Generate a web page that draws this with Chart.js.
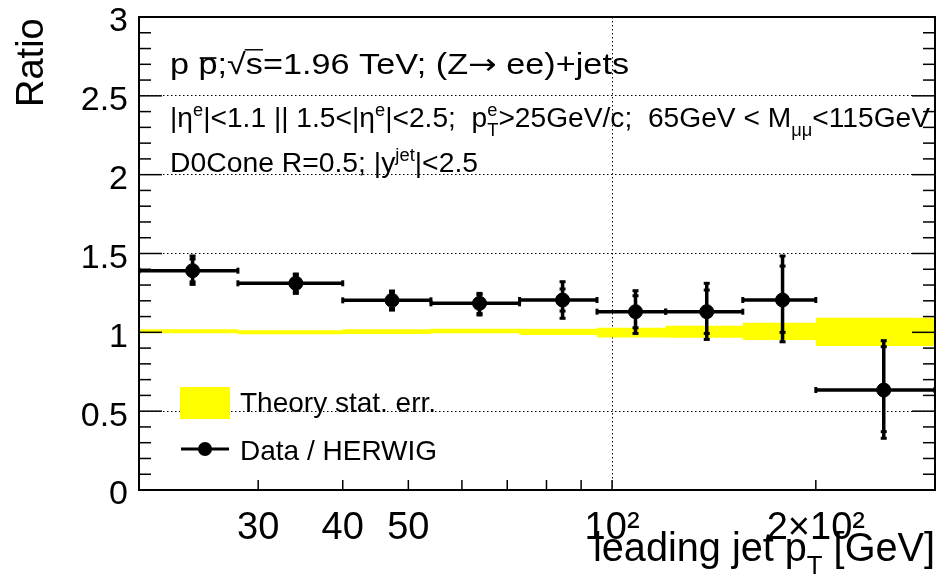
<!DOCTYPE html>
<html>
<head>
<meta charset="utf-8">
<script src="https://cdn.jsdelivr.net/npm/chart.js@4/dist/chart.umd.min.js"></script>
<style>
  html, body { margin: 0; padding: 0; background: #fff; overflow: hidden; }
  #clip { width: 937px; height: 576px; overflow: hidden; }
  #wrap { width: 937px; height: 576px; position: relative; }
  #chart { display: block; }
</style>
</head>
<body>
<div id="clip"><div id="wrap"><canvas id="chart"></canvas></div></div>
<script>
// bins of leading jet pT [GeV]
const binLo  = [20, 28, 40, 54, 73, 95, 120, 156, 200];
const binHi  = [28, 40, 54, 73, 95, 120, 156, 200, 300];
const binMid = [24.0, 34.1, 47.3, 63.7, 84.5, 108.3, 138.0, 178.6, 252];

// Data / HERWIG ratio with stat (inner) and total (outer) errors
const ratio  = [1.391, 1.311, 1.203, 1.184, 1.205, 1.131, 1.131, 1.205, 0.634];
const statLo = [1.320, 1.260, 1.150, 1.120, 1.135, 1.029, 0.993, 1.000, 0.370];
const statHi = [1.465, 1.360, 1.255, 1.240, 1.275, 1.232, 1.268, 1.420, 0.909];
const totLo  = [1.304, 1.247, 1.141, 1.110, 1.089, 0.993, 0.955, 0.940, 0.328];
const totHi  = [1.484, 1.370, 1.262, 1.247, 1.321, 1.264, 1.311, 1.484, 0.947];

// theory stat. err. band
const theoryLo = [0.994, 0.988, 0.990, 0.994, 0.983, 0.968, 0.966, 0.951, 0.913];
const theoryHi = [1.019, 1.013, 1.019, 1.022, 1.022, 1.029, 1.042, 1.061, 1.093];

// axis ticks
const xTickVals   = [20, 30, 40, 50, 60, 70, 80, 90, 100, 200, 300];
const xTickLabels = ['', '30', '40', '50', '', '', '', '', '10²', '2×10²', ''];

const FONT = '"Liberation Sans", Arial, Helvetica, sans-serif';
function fontOf(px, fam) { return px + 'px ' + (fam || FONT); }

// simple rich text: strings, {sup}, {sub}, {bar}, {rad}, {sym}
function runs(ctx, parts, size, draw) {
  let x = 0;
  const small = size * 0.65;
  parts.forEach(p => {
    if (typeof p === 'string') {
      ctx.font = fontOf(size);
      if (draw) ctx.fillText(p, x, 0);
      x += ctx.measureText(p).width;
    } else if (p.sym) {
      ctx.font = fontOf(size, '"DejaVu Sans", sans-serif');
      if (draw) ctx.fillText(p.sym, x, 0);
      x += ctx.measureText(p.sym).width;
    } else if (p.bar) {
      ctx.font = fontOf(size);
      const w = ctx.measureText(p.bar).width;
      if (draw) { ctx.fillText(p.bar, x, 0); ctx.fillRect(x + 1, -size * 0.58, w - 2, size * 0.06); }
      x += w;
    } else if (p.rad) {
      ctx.font = fontOf(size);
      const rw = ctx.measureText('√').width;
      const w = ctx.measureText(p.rad).width;
      if (draw) {
        ctx.fillText('√', x, 0);
        ctx.fillText(p.rad, x + rw, 0);
        ctx.fillRect(x + rw - 1, -size * 0.86, w + 1, size * 0.05);
      }
      x += rw + w;
    } else {
      ctx.font = fontOf(small);
      const ws = p.sup ? ctx.measureText(p.sup).width : 0;
      const wb = p.sub ? ctx.measureText(p.sub).width : 0;
      if (draw) {
        if (p.sup) ctx.fillText(p.sup, x, -size * 0.42);
        if (p.sub) ctx.fillText(p.sub, x, size * 0.32);
      }
      x += Math.max(ws, wb);
    }
  });
  return x;
}
function drawRich(ctx, parts, x, y, size, width) {
  ctx.save();
  ctx.fillStyle = '#000';
  ctx.textAlign = 'left';
  ctx.textBaseline = 'alphabetic';
  const w = runs(ctx, parts, size, false);
  const sx = width ? width / w : 1;
  ctx.translate(x, y);
  ctx.scale(sx, 1);
  runs(ctx, parts, size, true);
  ctx.restore();
}

// datasets built from the arrays
const hBars = binLo.flatMap((lo, i) => [{x: lo, y: ratio[i]}, {x: binHi[i], y: ratio[i]}, {x: binHi[i], y: null}]);
const vTot = binMid.flatMap((c, i) => [{x: c, y: totLo[i]}, {x: c, y: totHi[i]}, {x: c, y: null}]);
const statCaps = binMid.flatMap((c, i) => [{x: c, y: statLo[i]}, {x: c, y: statHi[i]}]);
const markers = binMid.map((c, i) => ({x: c, y: ratio[i]}));
const bandHi = binLo.flatMap((lo, i) => [{x: lo, y: theoryHi[i]}, {x: binHi[i], y: theoryHi[i]}]);
const bandLo = binLo.flatMap((lo, i) => [{x: lo, y: theoryLo[i]}, {x: binHi[i], y: theoryLo[i]}]);

const frame = {
  id: 'frame',
  afterDatasetsDraw(chart) {
    const {ctx, chartArea: a, scales: {x, y}} = chart;
    ctx.save();
    ctx.strokeStyle = '#000';
    ctx.lineWidth = 1.5;
    function seg(x1, y1, x2, y2) { ctx.beginPath(); ctx.moveTo(x1, y1); ctx.lineTo(x2, y2); ctx.stroke(); }
    for (let i = 0; i <= 30; i++) {
      const py = y.getPixelForValue(i / 10);
      const len = i % 5 === 0 ? 23 : 12;
      seg(a.left, py, a.left + len, py);
      seg(a.right, py, a.right - len, py);
    }
    xTickVals.forEach(v => {
      const px = x.getPixelForValue(v);
      seg(px, a.bottom, px, a.bottom - 10);
    });
    ctx.lineWidth = 2;
    ctx.strokeRect(a.left, a.top, a.right - a.left, a.bottom - a.top);
    ctx.restore();
  },
  afterDraw(chart) {
    const ctx = chart.ctx;
    // header text
    drawRich(ctx, ['p ', {bar: 'p'}, ';', {rad: 's'}, '=1.96 TeV; (Z', {sym: '→'}, ' ee)+jets'], 170, 74, 29, 459);
    drawRich(ctx, ['|η', {sup: 'e'}, '|<1.1 || 1.5<|η', {sup: 'e'}, '|<2.5;  p', {sub: 'T', sup: 'e'},
      '>25GeV/c;  65GeV < M', {sub: 'μμ'}, '<115GeV'], 170, 127, 27, 760);
    drawRich(ctx, ['D0Cone R=0.5; |y', {sup: 'jet'}, '|<2.5'], 170, 172, 27, 308);

    // axis titles
    drawRich(ctx, ['leading jet p', {sub: 'T'}, ' [GeV]'], 593, 561, 40, 342);
    ctx.save();
    ctx.translate(43, 107);
    ctx.rotate(-Math.PI / 2);
    ctx.font = fontOf(38);
    ctx.fillStyle = '#000';
    ctx.textBaseline = 'alphabetic';
    ctx.fillText('Ratio', 0, 0);
    ctx.restore();

    // legend
    ctx.save();
    ctx.fillStyle = '#ffff00';
    ctx.fillRect(180, 387, 50, 32);
    ctx.strokeStyle = '#000';
    ctx.lineWidth = 3;
    ctx.beginPath(); ctx.moveTo(181, 449); ctx.lineTo(229, 449); ctx.stroke();
    ctx.fillStyle = '#000';
    ctx.beginPath(); ctx.arc(205, 449, 7, 0, Math.PI * 2); ctx.fill();
    ctx.font = fontOf(28);
    ctx.fillText('Theory stat. err.', 240, 412);
    ctx.fillText('Data / HERWIG', 240, 460);
    ctx.restore();
  }
};

const config = {
  type: 'line',
  data: {
    datasets: [
      { data: markers, showLine: false, pointRadius: 7, pointBackgroundColor: '#000', pointBorderColor: '#000', order: 0 },
      { data: statCaps, showLine: false, pointStyle: 'line', pointRadius: 3, pointBorderWidth: 3, pointBorderColor: '#000', order: 1 },
      { data: vTot, borderColor: '#000', borderWidth: 3.5, pointStyle: 'line', pointRadius: 3, pointBorderWidth: 3, pointBorderColor: '#000', spanGaps: false, order: 2 },
      { data: hBars, borderColor: '#000', borderWidth: 3.5, pointStyle: 'line', pointRotation: 90, pointRadius: 3, pointBorderWidth: 3, pointBorderColor: '#000', spanGaps: false, order: 3 },
      { data: bandHi, borderWidth: 0, pointRadius: 0, fill: false, order: 5 },
      { data: bandLo, borderWidth: 0, pointRadius: 0, fill: '-1', backgroundColor: '#ffff00', order: 4 }
    ]
  },
  options: {
    responsive: true,
    maintainAspectRatio: false,
    animation: false,
    events: [],
    layout: { padding: { top: 17, right: 2, left: 0, bottom: 0 } },
    plugins: { legend: { display: false }, tooltip: { enabled: false } },
    scales: {
      x: {
        type: 'logarithmic',
        min: 20,
        max: 300,
        afterBuildTicks: scale => { scale.ticks = xTickVals.map(v => ({ value: v })); },
        afterFit: scale => { scale.height = 86; scale.paddingLeft = 0; scale.paddingRight = 0; },
        ticks: {
          autoSkip: false,
          maxRotation: 0,
          color: '#000',
          padding: 16,
          font: { family: FONT, size: 38 },
          callback: (v, i) => xTickLabels[i]
        },
        grid: {
          drawTicks: false,
          lineWidth: 1,
          color: c => (c.tick && c.tick.value === 100) ? '#000' : 'rgba(0,0,0,0)'
        },
        border: { display: false, dash: [1.5, 2.5] }
      },
      y: {
        min: 0,
        max: 3,
        afterFit: scale => { scale.width = 139; scale.paddingTop = 0; scale.paddingBottom = 0; },
        ticks: {
          stepSize: 0.5,
          color: '#000',
          padding: 11,
          labelOffset: 5,
          font: { family: FONT, size: 34 },
          callback: v => String(v)
        },
        grid: {
          drawTicks: false,
          lineWidth: 1,
          color: c => (c.tick && c.tick.value > 0 && c.tick.value < 3) ? '#000' : 'rgba(0,0,0,0)'
        },
        border: { display: false, dash: [1.5, 2.5] }
      }
    }
  },
  plugins: [frame]
};

document.addEventListener('DOMContentLoaded', function() {
  const myChart = new Chart(document.getElementById('chart').getContext('2d'), config);
  // the frame should end at x = 935; widen the (clipped) box if the layout left a gap
  const extra = 935 - myChart.chartArea.right;
  if (Math.abs(extra) > 0.5) {
    document.getElementById('wrap').style.width = (937 + extra) + 'px';
    myChart.resize();
  }
});
</script>
</body>
</html>
